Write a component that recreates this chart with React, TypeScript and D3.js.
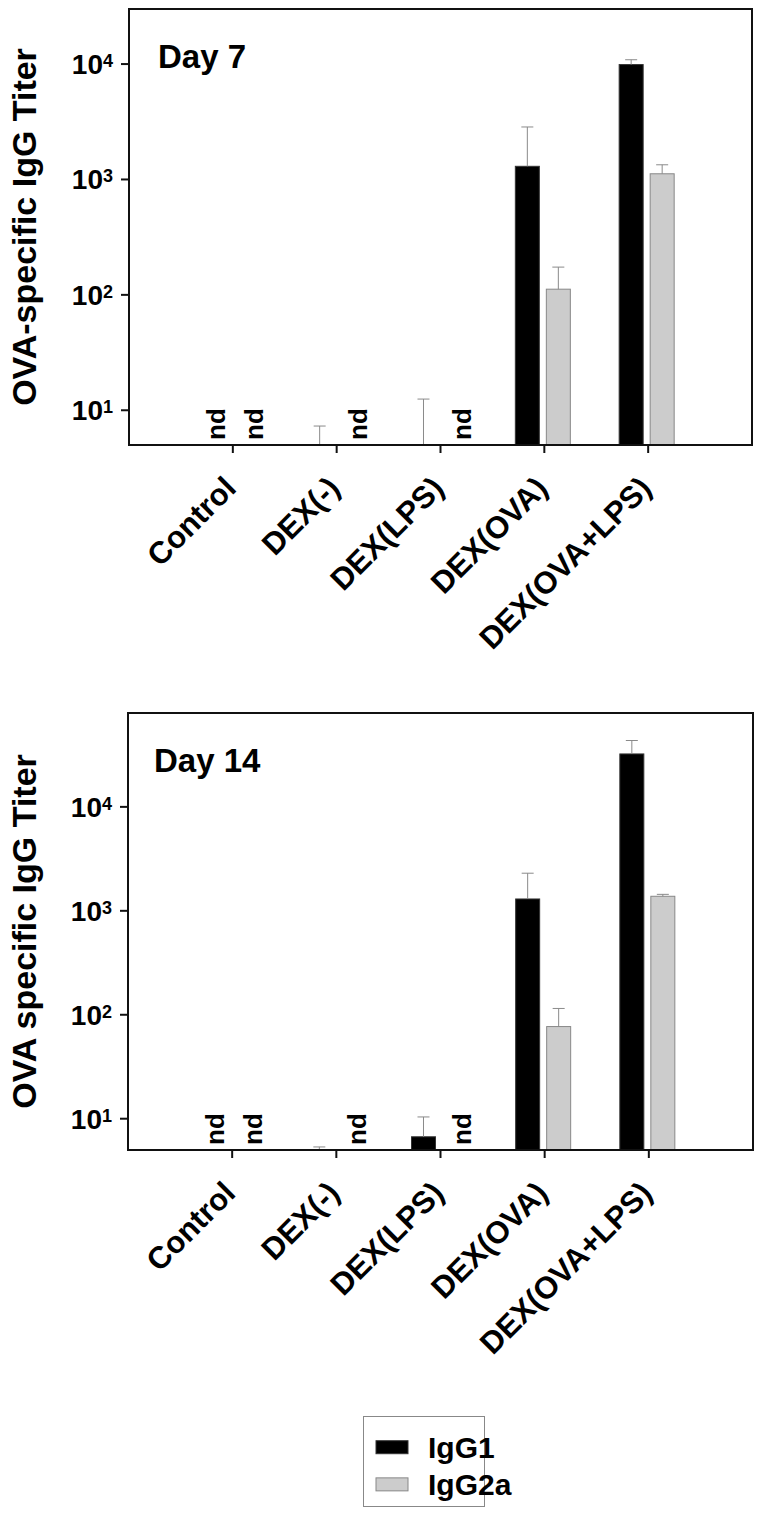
import React, { useEffect, useRef } from 'react';
import * as d3 from 'd3';

const categories = ["Control", "DEX(-)", "DEX(LPS)", "DEX(OVA)", "DEX(OVA+LPS)"];
const series = ["IgG1", "IgG2a"];

// null = not detected (nd)
const day7IgG1 = [null, 3, 3, 1300, 9900];
const day7IgG1Err = [null, 7.3, 12.5, 2850, 10900];
const day7IgG2a = [null, null, null, 112, 1120];
const day7IgG2aErr = [null, null, null, 174, 1340];

const day14IgG1 = [null, 4.8, 6.7, 1300, 32300];
const day14IgG1Err = [null, 5.35, 10.4, 2300, 43500];
const day14IgG2a = [null, null, null, 77, 1380];
const day14IgG2aErr = [null, null, null, 115, 1440];

const yTicks = [10, 100, 1000, 10000];

const FONT = "'Liberation Sans', Arial, Helvetica, sans-serif";
const fills = { IgG1: "#000000", IgG2a: "#cccccc" };
const strokes = { IgG1: "#333333", IgG2a: "#888888" };

const panels = [
  {
    title: "Day 7", yLabel: "OVA-specific IgG Titer",
    top: 9, bottom: 445, left: 129, right: 752, yMax: 30000,
    values: { IgG1: day7IgG1, IgG2a: day7IgG2a },
    errs: { IgG1: day7IgG1Err, IgG2a: day7IgG2aErr },
    titleX: 158, titleY: 68,
  },
  {
    title: "Day 14", yLabel: "OVA specific IgG Titer",
    top: 713, bottom: 1150, left: 128, right: 753, yMax: 80000,
    values: { IgG1: day14IgG1, IgG2a: day14IgG2a },
    errs: { IgG1: day14IgG1Err, IgG2a: day14IgG2aErr },
    titleX: 154, titleY: 772,
  },
];

const App = () => {
  const svgRef = useRef(null);

  useEffect(() => {
    const svg = d3.select(svgRef.current);
    svg.selectAll("*").remove();

    panels.forEach(p => {
      const g = svg.append("g").attr("font-family", FONT).attr("font-weight", "bold");

      const x = d3.scalePoint().domain(categories).range([p.left, p.right]).padding(1);
      const xs = d3.scaleBand().domain(series).range([-29, 26]).paddingInner(0.226).paddingOuter(0);
      const y = d3.scaleLog().domain([5, p.yMax]).range([p.bottom, p.top]).clamp(true);

      // bars
      series.forEach(s => {
        const vals = p.values[s];
        const errs = p.errs[s];
        const data = categories.map((c, i) => ({ c, v: vals[i], e: errs[i] }));

        g.append("g").selectAll("rect")
          .data(data.filter(d => d.v != null && d.v > 5))
          .join("rect")
          .attr("x", d => x(d.c) + xs(s))
          .attr("width", xs.bandwidth())
          .attr("y", d => y(d.v))
          .attr("height", d => p.bottom - y(d.v))
          .attr("fill", fills[s])
          .attr("stroke", strokes[s])
          .attr("stroke-width", 1);

        const eb = g.append("g").attr("stroke", "#8a8a8a").attr("stroke-width", 1).attr("fill", "none");
        const withErr = data.filter(d => d.v != null && d.e != null);
        eb.selectAll("line.v").data(withErr).join("line")
          .attr("class", "v")
          .attr("x1", d => x(d.c) + xs(s) + xs.bandwidth() / 2)
          .attr("x2", d => x(d.c) + xs(s) + xs.bandwidth() / 2)
          .attr("y1", d => y(d.v))
          .attr("y2", d => y(d.e));
        eb.selectAll("line.cap").data(withErr).join("line")
          .attr("class", "cap")
          .attr("x1", d => x(d.c) + xs(s) + xs.bandwidth() / 2 - 6)
          .attr("x2", d => x(d.c) + xs(s) + xs.bandwidth() / 2 + 6)
          .attr("y1", d => y(d.e))
          .attr("y2", d => y(d.e));

        // nd labels
        g.append("g").selectAll("text")
          .data(data.filter(d => d.v == null))
          .join("text")
          .attr("transform", d => `translate(${x(d.c) + xs(s) + xs.bandwidth() / 2 + (s === "IgG2a" ? 7 : 0)},${p.bottom - 5}) rotate(-90)`)
          .attr("dy", "0.35em")
          .attr("font-size", 26)
          .attr("fill", "#000")
          .text("nd");
      });

      // frame
      g.append("rect")
        .attr("x", p.left).attr("y", p.top)
        .attr("width", p.right - p.left).attr("height", p.bottom - p.top)
        .attr("fill", "none").attr("stroke", "#111").attr("stroke-width", 2);

      // x ticks
      g.append("g").selectAll("line")
        .data(categories).join("line")
        .attr("x1", d => x(d)).attr("x2", d => x(d))
        .attr("y1", p.bottom).attr("y2", p.bottom + 8)
        .attr("stroke", "#111").attr("stroke-width", 2);

      g.append("g").selectAll("text")
        .data(categories).join("text")
        .attr("transform", d => `translate(${x(d) + 5},${p.bottom + 45}) rotate(-45)`)
        .attr("text-anchor", "end")
        .attr("font-size", 31)
        .text(d => d);

      // y ticks
      g.append("g").selectAll("line")
        .data(yTicks).join("line")
        .attr("x1", p.left - 8).attr("x2", p.left)
        .attr("y1", d => y(d)).attr("y2", d => y(d))
        .attr("stroke", "#111").attr("stroke-width", 2);

      const tl = g.append("g").selectAll("text")
        .data(yTicks).join("text")
        .attr("x", p.left - 16)
        .attr("y", d => y(d) + 10)
        .attr("text-anchor", "end")
        .attr("font-size", 28);
      tl.append("tspan").text("10");
      tl.append("tspan")
        .attr("font-size", 18)
        .attr("dy", -7)
        .text(d => String(Math.round(Math.log10(d))));

      // y label
      g.append("text")
        .attr("transform", `translate(36,${(p.top + p.bottom) / 2}) rotate(-90)`)
        .attr("text-anchor", "middle")
        .attr("font-size", 34)
        .text(p.yLabel);

      // panel title
      g.append("text")
        .attr("x", p.titleX).attr("y", p.titleY)
        .attr("font-size", 33)
        .text(p.title);
    });

    // legend
    const lg = svg.append("g").attr("font-family", FONT).attr("font-weight", "bold");
    lg.append("rect")
      .attr("x", 363.5).attr("y", 1416.5).attr("width", 121).attr("height", 90)
      .attr("fill", "#fff").attr("stroke", "#888").attr("stroke-width", 1);
    const row = d3.scaleBand().domain(series).range([1428, 1506]).padding(0.1);
    const items = lg.selectAll("g.item").data(series).join("g").attr("class", "item")
      .attr("transform", d => `translate(0,${row(d)})`);
    items.append("rect")
      .attr("x", 376).attr("y", 9).attr("width", 32).attr("height", 13)
      .attr("fill", d => fills[d]).attr("stroke", d => strokes[d]).attr("stroke-width", 1);
    items.append("text")
      .attr("x", 428).attr("y", 26)
      .attr("font-size", 30)
      .text(d => d);
  }, []);

  return (
    <svg ref={svgRef} width={762} height={1515}
      style={{ position: "absolute", left: 0, top: 0, background: "#fff" }} />
  );
};

export default App;
